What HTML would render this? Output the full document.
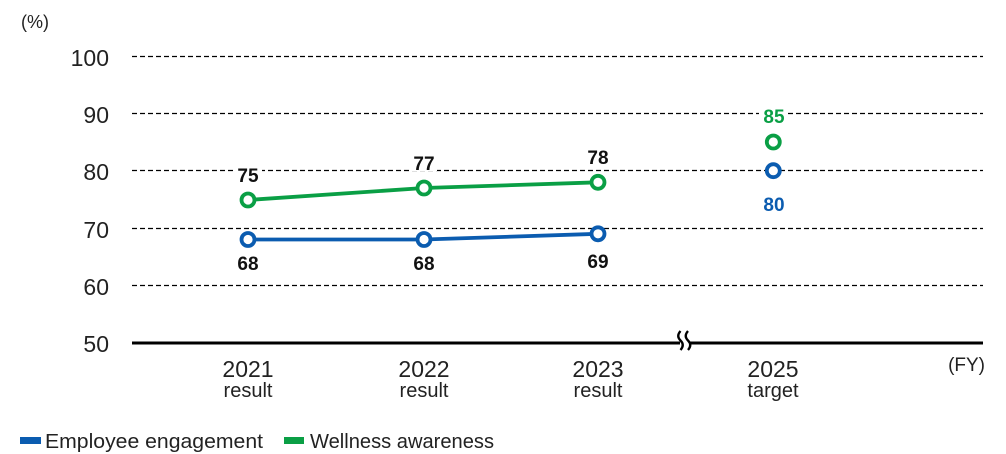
<!DOCTYPE html>
<html>
<head>
<meta charset="utf-8">
<style>
html,body{margin:0;padding:0;background:#fff;}
svg{display:block;}
text{font-family:"Liberation Sans",sans-serif;}
</style>
</head>
<body>
<svg width="1006" height="454" viewBox="0 0 1006 454" xmlns="http://www.w3.org/2000/svg">
  <rect width="1006" height="454" fill="#fff"/>
  <!-- unit -->
  <text x="21" y="28" font-size="18" fill="#222">(%)</text>

  <!-- gridlines -->
  <g stroke="#000" stroke-width="1.3" stroke-dasharray="5 3">
    <line x1="132" y1="56.5" x2="983" y2="56.5"/>
    <line x1="132" y1="113.5" x2="983" y2="113.5"/>
    <line x1="132" y1="170.5" x2="983" y2="170.5"/>
    <line x1="132" y1="228.5" x2="983" y2="228.5"/>
    <line x1="132" y1="285.5" x2="983" y2="285.5"/>
  </g>

  <!-- y labels -->
  <g font-size="23" fill="#222" text-anchor="end">
    <text x="109" y="66">100</text>
    <text x="109" y="123">90</text>
    <text x="109" y="180">80</text>
    <text x="109" y="238">70</text>
    <text x="109" y="295">60</text>
    <text x="109" y="352">50</text>
  </g>

  <!-- axis -->
  <line x1="132" y1="343" x2="983" y2="343" stroke="#000" stroke-width="3"/>
  <rect x="680" y="338" width="9" height="10" fill="#fff"/>
  <g stroke="#000" stroke-width="2.3" fill="none">
    <path d="M680.5 331 Q676 336 680.5 340.5 Q685 345 680.5 350"/>
    <path d="M688 331 Q683.5 336 688 340.5 Q692.5 345 688 350"/>
  </g>

  <!-- x labels -->
  <g fill="#222" text-anchor="middle">
    <text x="248" y="377" font-size="23">2021</text>
    <text x="248" y="397" font-size="20">result</text>
    <text x="424" y="377" font-size="23">2022</text>
    <text x="424" y="397" font-size="20">result</text>
    <text x="598" y="377" font-size="23">2023</text>
    <text x="598" y="397" font-size="20">result</text>
    <text x="773" y="377" font-size="23">2025</text>
    <text x="773" y="397" font-size="20">target</text>
  </g>
  <text x="985" y="371" font-size="19" fill="#222" text-anchor="end">(FY)</text>

  <!-- label backgrounds -->
  <g fill="#fff">
    <rect x="235" y="166" width="27" height="18"/>
    <rect x="410" y="153" width="27" height="18"/>
    <rect x="584" y="149" width="28" height="18"/>
    <rect x="759" y="107" width="28" height="18"/>
  </g>

  <!-- lines -->
  <polyline points="248,200 424,188 598,182.3" fill="none" stroke="#0a9f45" stroke-width="3.8"/>
  <polyline points="248,239.5 424,239.5 598,233.8" fill="none" stroke="#0b5cb0" stroke-width="3.8"/>

  <!-- markers -->
  <g fill="#fff" stroke-width="3.8">
    <circle cx="248" cy="200" r="6.5" stroke="#0a9f45"/>
    <circle cx="424" cy="188" r="6.5" stroke="#0a9f45"/>
    <circle cx="598" cy="182.3" r="6.5" stroke="#0a9f45"/>
    <circle cx="773.3" cy="142" r="6.5" stroke="#0a9f45"/>
    <circle cx="248" cy="239.5" r="6.5" stroke="#0b5cb0"/>
    <circle cx="424" cy="239.5" r="6.5" stroke="#0b5cb0"/>
    <circle cx="598" cy="233.8" r="6.5" stroke="#0b5cb0"/>
    <circle cx="773.3" cy="170.7" r="6.5" stroke="#0b5cb0"/>
  </g>

  <!-- value labels -->
  <g font-size="19" font-weight="bold" text-anchor="middle" fill="#111">
    <text x="248" y="182">75</text>
    <text x="424" y="170">77</text>
    <text x="598" y="164">78</text>
    <text x="248" y="270">68</text>
    <text x="424" y="270">68</text>
    <text x="598" y="268">69</text>
    <text x="774" y="123" fill="#0a9f45">85</text>
    <text x="774" y="211" fill="#0b5cb0">80</text>
  </g>

  <!-- legend -->
  <rect x="20" y="437" width="21" height="7" fill="#0b5cb0"/>
  <text x="45" y="448" font-size="20.5" fill="#222" textLength="218" lengthAdjust="spacingAndGlyphs">Employee engagement</text>
  <rect x="284" y="437" width="20" height="7" fill="#0a9f45"/>
  <text x="310" y="448" font-size="20.5" fill="#222" textLength="184" lengthAdjust="spacingAndGlyphs">Wellness awareness</text>
</svg>
</body>
</html>
